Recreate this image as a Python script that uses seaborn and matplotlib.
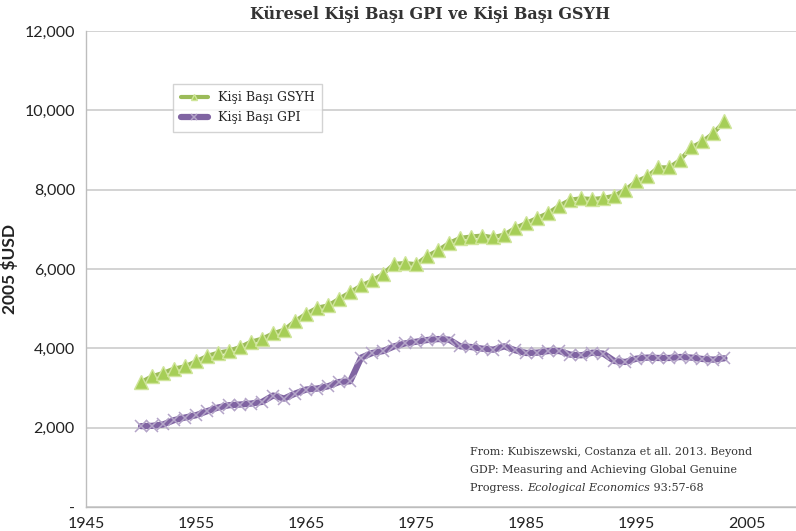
import numpy as np
import pandas as pd
import seaborn as sns
import matplotlib
matplotlib.use('Agg')
import matplotlib.pyplot as plt
from matplotlib.ticker import FuncFormatter


# Veriler
years = list(range(1950, 2004))

gsyh_per_capita = [
    3150, 3296, 3380, 3490, 3547, 3673, 3807, 3891, 3942, 4033,
    4168, 4244, 4377, 4470, 4687, 4873, 5024, 5082, 5250, 5417,
    5585, 5711, 5879, 6130, 6150, 6120, 6330, 6475, 6659, 6785,
    6818, 6843, 6801, 6868, 7036, 7162, 7288, 7414, 7597, 7748,
    7782, 7765, 7790, 7849, 8000, 8210, 8336, 8562, 8562, 8755,
    9065, 9216, 9427, 9719,
]

gpi_per_capita = [
    2038, 2046, 2080, 2189, 2256, 2314, 2415, 2508, 2566, 2583,
    2608, 2650, 2810, 2734, 2860, 2961, 2986, 3044, 3152, 3170,
    3766, 3882, 3932, 4050, 4125, 4167, 4210, 4234, 4218, 4050,
    4033, 3992, 3967, 4050, 3950, 3882, 3891, 3932, 3932, 3841,
    3824, 3891, 3866, 3681, 3656, 3740, 3766, 3757, 3757, 3782,
    3766, 3732, 3715, 3749,
]

x_ticks = [1945, 1955, 1965, 1975, 1985, 1995, 2005]
y_ticks = [0, 2000, 4000, 6000, 8000, 10000, 12000]

title = 'Küresel Kişi Başı GPI ve Kişi Başı GSYH'
label_gsyh = 'Kişi Başı GSYH'
label_gpi = 'Kişi Başı GPI'
source_lines = [
    'From: Kubiszewski, Costanza et all. 2013. Beyond',
    'GDP: Measuring and Achieving Global Genuine',
]
source_last = ['Progress. ', 'Ecological Economics', ' 93:57-68']

df = pd.DataFrame({'year': years, 'gsyh': gsyh_per_capita, 'gpi': gpi_per_capita})


sns.set_style('white')
plt.rcParams['font.family'] = ['Lato', 'DejaVu Sans']

W, H = 796, 531
fig = plt.figure(figsize=(W / 100, H / 100), dpi=100)
ax = fig.add_axes([86 / W, 1 - 507 / H, 710 / W, 476 / H])

sns.lineplot(
    data=df, x='year', y='gsyh', ax=ax,
    color='#9BBB59', linewidth=3,
    marker='^', markersize=9.5,
    markerfacecolor='#A6CE57', markeredgecolor='#CFE59A', markeredgewidth=1,
    label=label_gsyh, zorder=3
)
sns.lineplot(
    data=df, x='year', y='gpi', ax=ax,
    color='#8064A2', linewidth=4.5,
    marker='x', markersize=9,
    markeredgecolor='#B4A5C8', markeredgewidth=1.1,
    label=label_gpi, zorder=3
)

ax.set_xlim(1945, 2009.5)
ax.set_ylim(0, 12000)
ax.set_xticks(x_ticks)
ax.set_yticks(y_ticks)
ax.yaxis.set_major_formatter(FuncFormatter(lambda v, p: '-' if v == 0 else f'{int(v):,}'))

ax.grid(axis='y', color='#C8C8C8', linewidth=1.1)
ax.grid(axis='x', visible=False)
for side in ['top', 'right']:
    ax.spines[side].set_visible(False)
for side in ['left', 'bottom']:
    ax.spines[side].set_color('#BDBDBD')
    ax.spines[side].set_linewidth(1)

ax.tick_params(axis='y', length=4, color='#BDBDBD', labelsize=11.5, pad=4, labelcolor='#222222')
ax.tick_params(axis='x', length=3, direction='in', color='#BDBDBD', labelsize=11.5, pad=7,
               labelcolor='#222222')

ax.set_xlabel('')
ax.set_ylabel('2005 $USD', fontsize=12.5, fontweight='bold', color='#222222')
ax.yaxis.set_label_coords(-68 / 710, 0.5)

leg = ax.legend(
    loc='upper left',
    bbox_to_anchor=((173 - 86) / 710, (507 - 84) / 476),
    borderaxespad=0, frameon=True, fancybox=False,
    prop={'family': 'DejaVu Serif', 'size': 9},
    handlelength=2.2, borderpad=0.6, labelspacing=0.55, handletextpad=0.8,
)
leg.get_frame().set_edgecolor('#C8C8C8')
leg.get_frame().set_linewidth(1)
for h in leg.legend_handles:
    h.set_markersize(5)

fig.text(430 / W, 1 - 14 / H, title, ha='center', va='center',
         family='DejaVu Serif', fontweight='bold', fontsize=11.5, color='#333333')

# Kaynak notu
src_font = {'family': 'DejaVu Serif', 'size': 8.0, 'color': '#333333'}
x0 = 470 / W
baselines = [455, 473, 491]
for line, yb in zip(source_lines, baselines[:2]):
    fig.text(x0, 1 - yb / H, line, ha='left', va='baseline', **src_font)

renderer = fig.canvas.get_renderer()
x_px = 470
for i, part in enumerate(source_last):
    t = fig.text(x_px / W, 1 - baselines[2] / H, part, ha='left', va='baseline',
                 style='italic' if i == 1 else 'normal', **src_font)
    x_px += t.get_window_extent(renderer=renderer).width

fig.savefig('out.png', dpi=100)
